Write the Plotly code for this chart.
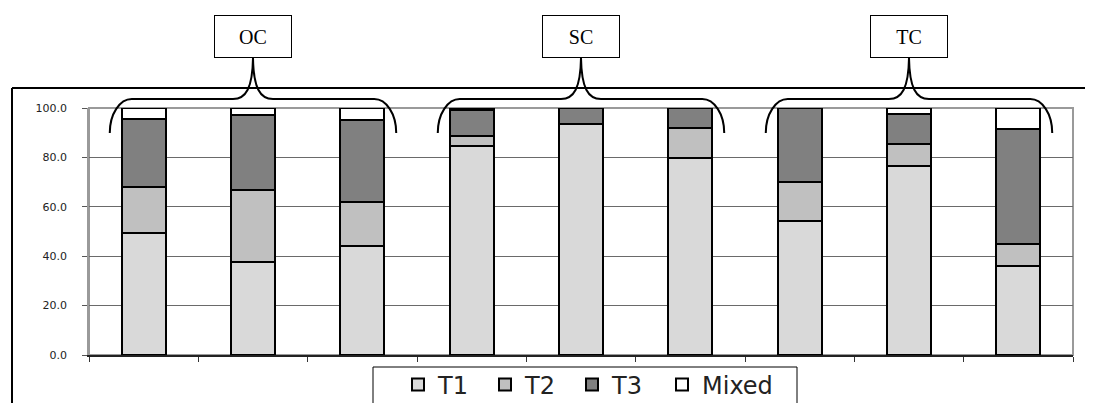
import plotly.graph_objects as go

# stacked shares per sample (%)
samples = list(range(9))
t1 = [49.5, 37.8, 44.1, 84.6, 93.4, 79.9, 54.3, 76.6, 36.0]
t2 = [18.6, 29.0, 18.0, 4.1, 0.0, 11.9, 15.9, 8.7, 8.8]
t3 = [27.4, 30.4, 33.0, 10.5, 6.6, 8.2, 29.8, 12.3, 46.6]
mixed = [4.5, 2.8, 4.9, 0.8, 0.0, 0.0, 0.0, 2.4, 8.6]

groups = ["OC", "SC", "TC"]
group_centers = [1, 4, 7]
ytick_vals = [0, 20, 40, 60, 80, 100]
ytick_text = ["0.0", "20.0", "40.0", "60.0", "80.0", "100.0"]

# page body has an 8px margin, so lay out in page pixels and shift
OFF = 8
W, H = 1093 - OFF, 403 - OFF
ML, MT = 89 - OFF, 108 - OFF
MR, MB = W - (1073 - OFF), H - (355 - OFF)
PW, PH = W - ML - MR, H - MT - MB
UNIT = PW / 9.0  # px per category


def px_x(px):
    return (px - OFF - ML) / PW


def px_y(py):
    return (H + OFF - MB - py) / PH


fig = go.Figure()
series = [("T1", t1, "#d9d9d9", "legend"), ("T2", t2, "#c0c0c0", "legend"),
          ("T3", t3, "#808080", "legend"), ("Mixed", mixed, "#ffffff", "legend2")]
for name, vals, col, leg in series:
    fig.add_trace(go.Bar(x=samples, y=vals, name=name, width=0.4, legend=leg,
                         marker=dict(color=col, line=dict(color="black", width=2))))

shapes = []
# plot area frame
shapes.append(dict(type="rect", xref="paper", yref="paper", x0=0, x1=1, y0=0, y1=1,
                   line=dict(color="#9a9a9a", width=2), layer="below"))
# chart area border (left and top)
shapes.append(dict(type="line", xref="paper", yref="paper", x0=px_x(12), x1=px_x(1100),
                   y0=px_y(88), y1=px_y(88), line=dict(color="black", width=2)))
shapes.append(dict(type="line", xref="paper", yref="paper", x0=px_x(12), x1=px_x(12),
                   y0=px_y(88), y1=px_y(410), line=dict(color="black", width=2)))
# legend box
shapes.append(dict(type="rect", xref="paper", yref="paper", x0=px_x(373), x1=px_x(797),
                   y0=px_y(367), y1=px_y(410), line=dict(color="black", width=1),
                   fillcolor="white", layer="below"))

# curly braces over each group
ye, yh, ya = px_y(133), px_y(99), px_y(58)
half = 1.31
for c in group_centers:
    def X(d):
        return c + d / UNIT
    xl, xr = c - half, c + half
    ex = 22 / UNIT
    p = (f"M{xl},{ye} C{xl},{px_y(114)} {xl + ex * 0.45},{yh} {xl + ex},{yh} "
         f"L{X(-20)},{yh} C{X(-7)},{yh} {X(-0.5)},{px_y(88)} {c},{ya} "
         f"C{X(0.5)},{px_y(88)} {X(7)},{yh} {X(20)},{yh} "
         f"L{xr - ex},{yh} C{xr - ex * 0.45},{yh} {xr},{px_y(114)} {xr},{ye}")
    shapes.append(dict(type="path", xref="x", yref="paper", path=p,
                       line=dict(color="black", width=2)))

annotations = []
for g, c in zip(groups, group_centers):
    annotations.append(dict(x=c, y=px_y(36.5), xref="x", yref="paper", text=g,
                            xanchor="center", yanchor="middle",
                            showarrow=False, width=76, height=41, borderpad=0,
                            bordercolor="black", borderwidth=1, bgcolor="white",
                            font=dict(family="Liberation Serif", size=20, color="black")))

leg_font = dict(family="DejaVu Sans", size=24, color="#222")
fig.update_layout(
    width=W, height=H,
    margin=dict(l=ML, r=MR, t=MT, b=MB, autoexpand=False),
    paper_bgcolor="white", plot_bgcolor="white",
    barmode="stack", bargap=0.6,
    showlegend=True,
    legend=dict(orientation="h", x=px_x(398), y=px_y(385), xanchor="left", yanchor="middle",
                borderwidth=0, bgcolor="rgba(0,0,0,0)", font=leg_font,
                itemwidth=30, entrywidth=42, traceorder="normal"),
    legend2=dict(orientation="h", x=px_x(662), y=px_y(385), xanchor="left", yanchor="middle",
                 borderwidth=0, bgcolor="rgba(0,0,0,0)", font=leg_font, itemwidth=30),
    xaxis=dict(range=[-0.5, 8.5], tickvals=[i - 0.5 for i in range(10)], showticklabels=False,
               ticks="outside", ticklen=5, tickcolor="#333", showgrid=False, zeroline=False,
               showline=True, linecolor="#222", linewidth=1.5),
    yaxis=dict(range=[0, 100], tickvals=ytick_vals, ticktext=ytick_text,
               ticks="outside", ticklen=5, tickcolor="#555", showgrid=True,
               gridcolor="#6a6a6a", gridwidth=1, zeroline=False, showline=True,
               linecolor="#9a9a9a", linewidth=1.5, ticklabelstandoff=13,
               tickfont=dict(family="DejaVu Sans", size=11, color="#222")),
    shapes=shapes,
    annotations=annotations,
)

fig.write_html("out.html")
